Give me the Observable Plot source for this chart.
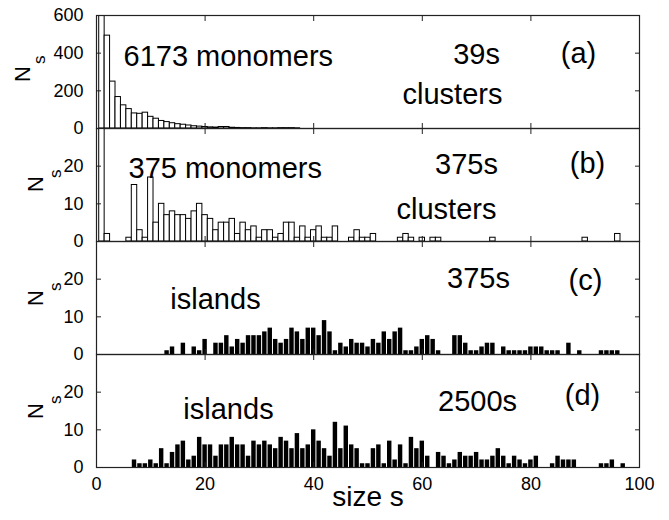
<!DOCTYPE html>
<html><head><meta charset="utf-8">
<script src="https://cdn.jsdelivr.net/npm/d3@7"></script>
<script src="https://cdn.jsdelivr.net/npm/@observablehq/plot@0.6"></script>
<style>
html,body{margin:0;padding:0;background:#fff;}
#chart{width:669px;height:520px;}
#chart svg{display:block;overflow:visible;}
</style></head><body><div id="chart"></div>
<script>
// N_s for cluster/island size s = 1, 2, 3, ...
const clusters39s = [6173,493,249,167,123,103,80,78,84,62,52,40,34,28,23,20,16,12,10,8,
  6,5,8,8,4,3,2,2,1,1,2,1,1,2,2,2,1];
const clusters375s = [375,2,0,0,0,1,15,3,1,17,5,10,7,8,7,7,6,8,10,7,
  6,3,5,5,6,2,5,3,4,1,3,3,1,2,5,5,1,4,1,3,
  4,1,1,4,0,0,1,3,1,1,2,0,0,0,0,1,2,1,0,1,
  0,1,1,0,0,0,0,0,0,0,0,0,1,0,0,0,0,0,0,0,
  0,0,0,0,0,0,0,0,0,1,0,0,0,0,0,2];
const islands375s = [0,0,0,0,0,0,0,0,0,0,0,0,1,2,0,3,0,2,1,4,
  0,3,3,5,2,4,3,5,5,5,6,7,4,3,4,7,6,4,7,7,
  5,9,6,1,3,2,4,3,3,2,4,3,6,4,6,7,1,1,2,4,
  5,4,1,0,0,5,5,3,1,1,2,3,3,0,2,1,1,1,1,2,
  2,2,1,1,1,0,3,0,1,0,0,0,1,1,1,1];
const islands2500s = [0,0,0,0,0,0,2,1,1,2,1,5,1,4,6,7,2,3,8,6,
  6,3,6,6,8,6,6,3,7,6,7,6,5,8,7,5,9,5,6,10,
  7,5,3,12,5,11,6,5,1,1,5,6,1,7,2,6,1,8,5,7,
  3,0,4,3,1,2,4,3,3,4,2,2,3,5,3,1,3,2,1,2,
  3,0,0,1,3,2,2,2,0,0,0,0,1,1,2,0,1];

const xTicks = [0, 20, 40, 60, 80, 100];
const yTicksA = [0, 200, 400, 600];
const yTicksB = [0, 10, 20];
const labelsA = ["6173 monomers", "39s", "(a)", "clusters"];
const labelsB = ["375 monomers", "375s", "(b)", "clusters"];
const labelsC = ["islands", "375s", "(c)"];
const labelsD = ["islands", "2500s", "(d)"];
const yLabel = ["N", "s"];
const xLabel = "size s";

const table = arr => arr.map((n, i) => ({s: i + 1, n})).filter(d => d.n > 0);

const FONT = "'Liberation Sans', Arial, Helvetica, sans-serif";

function panel({counts, yMax, yTicks, height, marginTop, marginBottom, filled, notes, ns, bottom}) {
  const inner = xTicks.slice(1, -1);
  const innerY = yTicks.slice(1);
  const marks = [
    Plot.rectY(table(counts), {
      x1: d => d.s - 0.5, x2: d => d.s + 0.5, y: "n",
      fill: filled ? "#000" : "#fff",
      stroke: filled ? "none" : "#000",
      strokeWidth: 1,
      insetLeft: filled ? 0.5 : 0, insetRight: filled ? 0.5 : 0,
      clip: true
    }),
    Plot.frame({stroke: "#222", strokeWidth: 1.2}),
    Plot.axisY(yTicks, {anchor: "left", tickSize: 0, tickPadding: 13, label: null, fontSize: 18, fill: "#000"}),
    Plot.axisY(innerY, {anchor: "left", tickSize: 5, dx: 5, fill: "none", stroke: "#222"}),
    Plot.axisY(innerY, {anchor: "right", tickSize: 5, dx: -5, fill: "none", stroke: "#222"}),
    Plot.axisX(inner, {anchor: "top", tickSize: 5, dy: 5, fill: "none", stroke: "#222"}),
    Plot.axisX(inner, {anchor: "bottom", tickSize: 5, dy: -5, fill: "none", stroke: "#222"}),
    Plot.text([yLabel[0]], {text: d => d, frameAnchor: "left", rotate: -90, dx: ns[0], dy: ns[1], fontSize: 22, fill: "#000"}),
    Plot.text([yLabel[1]], {text: d => d, frameAnchor: "left", rotate: -90, dx: ns[2], dy: ns[3], fontSize: 17, fill: "#000"}),
    ...notes.map(([t, dx, dy, anchor]) =>
      Plot.text([t], {text: d => d, frameAnchor: "top-left", textAnchor: anchor || "middle", dx, dy, fontSize: 29, fill: "#000"}))
  ];
  if (bottom) {
    marks.push(Plot.axisX(xTicks, {anchor: "bottom", tickSize: 0, tickPadding: 10, label: null, fontSize: 18, fill: "#000"}));
    marks.push(Plot.text([xLabel], {text: d => d, frameAnchor: "bottom", dy: 38, fontSize: 28, fill: "#000"}));
  }
  return Plot.plot({
    width: 669, height,
    marginLeft: 96, marginRight: 30, marginTop, marginBottom,
    x: {domain: [0, 100], label: null},
    y: {domain: [0, yMax], label: null, clamp: true},
    style: {fontFamily: FONT, background: "transparent", overflow: "visible", color: "#000"},
    marks
  });
}

const chart = document.getElementById("chart");
chart.append(panel({
  counts: clusters39s, yMax: 600, yTicks: yTicksA, height: 128, marginTop: 15, marginBottom: 0, filled: false,
  ns: [-74, 10, -57, -8],
  notes: [[labelsA[0], 27, 30, "start"], [labelsA[1], 380, 28], [labelsA[2], 482, 27], [labelsA[3], 356, 68]]
}));
chart.append(panel({
  counts: clusters375s, yMax: 30, yTicks: yTicksB, height: 113, marginTop: 0, marginBottom: 0, filled: false,
  ns: [-60.5, 7, -41, -7],
  notes: [[labelsB[0], 32, 29, "start"], [labelsB[1], 370, 25], [labelsB[2], 491, 24], [labelsB[3], 350, 70]]
}));
chart.append(panel({
  counts: islands375s, yMax: 30, yTicks: yTicksB, height: 113, marginTop: 0, marginBottom: 0, filled: true,
  ns: [-60.5, 8, -41, -7],
  notes: [[labelsC[0], 119, 47], [labelsC[1], 382, 26], [labelsC[2], 489, 28]]
}));
chart.append(panel({
  counts: islands2500s, yMax: 30, yTicks: yTicksB, height: 166, marginTop: 0, marginBottom: 53, filled: true,
  ns: [-60.5, 8, -41, -7],
  notes: [[labelsD[0], 132, 44], [labelsD[1], 381, 36], [labelsD[2], 486, 30]],
  bottom: true
}));
</script></body></html>
